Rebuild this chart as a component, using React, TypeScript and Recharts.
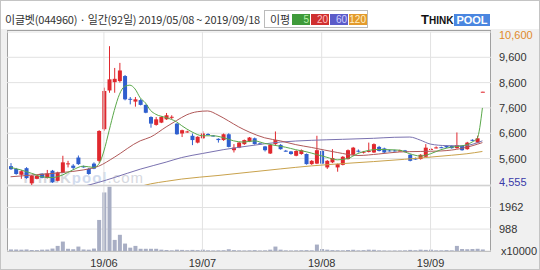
import React from 'react';
import {
  Bar,
  CartesianGrid,
  ComposedChart,
  Line,
  ReferenceLine,
  XAxis,
  YAxis,
} from 'recharts';

// trading days 2019/05/08 ~ 2019/09/18 (92일)
const may = [8, 9, 10, 13, 14, 15, 16, 17, 20, 21, 22, 23, 24, 27, 28, 29, 30, 31];
const jun = [3, 4, 5, 7, 10, 11, 12, 13, 14, 17, 18, 19, 20, 21, 24, 25, 26, 27, 28];
const jul = [1, 2, 3, 4, 5, 8, 9, 10, 11, 12, 15, 16, 17, 18, 19, 22, 23, 24, 25, 26, 29, 30, 31];
const aug = [1, 2, 5, 6, 7, 8, 9, 12, 13, 14, 16, 19, 20, 21, 22, 23, 26, 27, 28, 29, 30];
const sep = [2, 3, 4, 5, 6, 9, 10, 11, 16, 17, 18];

const monthTicks = ['19/06/03', '19/07/01', '19/08/01', '19/09/02'];
const priceTicks = [4555, 5600, 6600, 7600, 8600, 9600, 10600];
const volumeTicks = [0, 988, 1962];

const opens = [
  5300, 5190, 4960, 5220, 4620, 4800, 5000, 4830, 5120, 4720,
  5050, 5390, 5320, 5640, 5290, 5190, 5400, 5510, 6760, 8290,
  8620, 8660, 8860, 7960, 7850, 7910, 7720, 7240, 6930, 7020,
  7150, 7240, 6980, 6590, 6650, 6500, 6230, 6400, 6570, 6510,
  6380, 6330, 6560, 5930, 6030, 6170, 6270, 6400, 6200, 6080,
  5800, 6170, 6140, 5910, 5880, 5710, 5780, 5780, 5380, 5400,
  5900, 5250, 5450, 5250, 5350, 5580, 5750, 5910, 5840, 5860,
  5840, 6060, 6000, 5920, 5920, 5900, 5920, 5750, 5600, 5580,
  5670, 5960, 6020, 6050, 6100, 6100, 6010, 6100, 5970, 6340,
  6230, 8230,
];
const highs = [
  5420, 5230, 5150, 5260, 4950, 4960, 5020, 5150, 5150, 5080,
  5710, 5510, 5380, 5720, 5320, 5230, 5450, 6720, 8400, 10040,
  9180, 9380, 8900, 8030, 8030, 7950, 7740, 7270, 7240, 7270,
  7400, 7310, 7000, 6740, 6700, 6590, 6480, 6680, 6600, 6530,
  6400, 6590, 6600, 6170, 6260, 6350, 6450, 6430, 6230, 6100,
  6170, 6670, 6170, 5940, 5900, 5930, 5960, 5800, 5540, 6500,
  5930, 5540, 5970, 5400, 5700, 5960, 6060, 5960, 5900, 6230,
  6200, 6100, 6030, 5950, 5950, 5950, 5940, 5770, 5640, 5770,
  6170, 6010, 6080, 6070, 6120, 6120, 6630, 6130, 6260, 6360,
  6500, 8240,
];
const lows = [
  5150, 4960, 4800, 4800, 4555, 4780, 4820, 4810, 4640, 4700,
  5030, 5250, 5160, 5350, 5240, 4960, 5180, 5440, 6700, 8200,
  8200, 8600, 7900, 7740, 7650, 7700, 7390, 6820, 6900, 7000,
  7130, 7160, 6540, 6450, 6620, 6130, 6200, 6380, 6540, 6470,
  6230, 6300, 6040, 5840, 6010, 6140, 6250, 6150, 6170, 5880,
  5780, 6140, 5950, 5870, 5750, 5690, 5750, 5360, 5350, 5380,
  5380, 5190, 5420, 5080, 5330, 5560, 5720, 5840, 5800, 5840,
  5820, 5880, 5820, 5880, 5880, 5880, 5840, 5490, 5550, 5560,
  5650, 5940, 6000, 6010, 6020, 5990, 5990, 5910, 5950, 6290,
  6210, 8230,
];
const closes = [
  5180, 4990, 5100, 4830, 4920, 4920, 4840, 5010, 4660, 5050,
  5450, 5410, 5230, 5380, 5270, 4990, 5200, 6690, 8270, 8730,
  8750, 9080, 7940, 7940, 7940, 7720, 7410, 6980, 7150, 7240,
  7310, 7250, 6560, 6720, 6670, 6330, 6460, 6590, 6560, 6500,
  6330, 6560, 6060, 6030, 6230, 6330, 6430, 6170, 6190, 5930,
  6140, 6330, 5970, 5900, 5780, 5900, 5930, 5380, 5510, 5930,
  5400, 5510, 5620, 5380, 5670, 5930, 6030, 5880, 5870, 5900,
  6170, 5900, 5840, 5900, 5900, 5920, 5860, 5510, 5580, 5750,
  6030, 5980, 6040, 6030, 6040, 6010, 6130, 5930, 6230, 6320,
  6400, 8240,
];
// 거래량 (x10000)
const volumes = [
  70, 65, 60, 70, 45, 40, 60, 65, 110, 230,
  425, 100, 80, 200, 70, 60, 110, 1400, 2640, 2895,
  500, 730, 335, 150, 230, 100, 100, 100, 100, 60,
  45, 30, 60, 50, 35, 50, 40, 60, 30, 25,
  30, 35, 80, 40, 30, 25, 30, 40, 25, 30,
  60, 200, 60, 30, 25, 30, 35, 40, 30, 290,
  90, 60, 40, 35, 30, 45, 55, 30, 40, 60,
  55, 30, 25, 20, 25, 25, 30, 50, 35, 60,
  50, 60, 30, 30, 40, 30, 230, 90, 80, 90,
  100, 70,
];

// moving averages: [day index, price]
const ma5Pts: [number, number][] = [
  [0, 5250], [2, 5150], [4, 5020], [6, 4880], [8, 4850], [10, 4950], [12, 5150], [14, 5300],
  [16, 5250], [17, 5380], [18, 5900], [19, 6700], [20, 7500], [21, 8140], [22, 8450], [23, 8500],
  [24, 8350], [25, 8000], [26, 7800], [27, 7500], [28, 7350], [30, 7220], [32, 7050], [33, 6900],
  [35, 6650], [37, 6500], [39, 6500], [41, 6430], [43, 6300], [45, 6250], [47, 6300], [49, 6200],
  [51, 6120], [53, 6050], [55, 5950], [57, 5870], [59, 5760], [61, 5650], [63, 5550], [65, 5600],
  [67, 5800], [69, 5920], [71, 5960], [73, 5950], [75, 5930], [77, 5790], [79, 5700], [81, 5790],
  [83, 5950], [85, 6050], [87, 6100], [88, 6150], [89, 6250], [90, 6400], [91, 7600],
];
const ma20Pts: [number, number][] = [
  [0, 4880], [5, 4960], [10, 5050], [14, 5150], [17, 5300], [20, 5650], [25, 6300], [27, 6450],
  [30, 6850], [32, 7100], [34, 7330], [36, 7450], [38, 7480], [40, 7320], [42, 7090], [44, 6850],
  [46, 6650], [49, 6420], [52, 6300], [55, 6150], [58, 6040], [63, 5840], [67, 5720], [71, 5780],
  [75, 5860], [79, 5880], [83, 5900], [87, 6000], [91, 6230],
];
const ma60Pts: [number, number][] = [
  [14, 4500], [17, 4660], [20, 4850], [25, 5180], [30, 5460], [33, 5640], [37, 5800], [41, 5950],
  [46, 6100], [52, 6250], [58, 6320], [64, 6360], [70, 6400], [74, 6440], [77, 6450], [79, 6330],
  [81, 6170], [84, 6110], [87, 6100], [89, 6160], [91, 6300],
];
const ma120Pts: [number, number][] = [
  [25, 4500], [27, 4600], [30, 4700], [33, 4790], [40, 4930], [46, 5060], [52, 5190], [58, 5310],
  [64, 5400], [70, 5480], [76, 5570], [80, 5640], [85, 5730], [88, 5790], [91, 5880],
];

const RED = '#e0282e';
const BLUE = '#2f5fce';
const GRID = '#e2e2e2';

const pad = (n: number) => (n < 10 ? `0${n}` : `${n}`);
const dates = [
  ...may.map((d) => `19/05/${pad(d)}`),
  ...jun.map((d) => `19/06/${pad(d)}`),
  ...jul.map((d) => `19/07/${pad(d)}`),
  ...aug.map((d) => `19/08/${pad(d)}`),
  ...sep.map((d) => `19/09/${pad(d)}`),
];

const pick = (pts: [number, number][], i: number) => {
  const hit = pts.find((p) => p[0] === i);
  return hit ? hit[1] : null;
};

const rows = dates.map((date, i) => ({
  date,
  open: opens[i],
  high: highs[i],
  low: lows[i],
  close: closes[i],
  range: [lows[i], highs[i]],
  vol: volumes[i],
  ma5: pick(ma5Pts, i),
  ma20: pick(ma20Pts, i),
  ma60: pick(ma60Pts, i),
  ma120: pick(ma120Pts, i),
}));

const Candle = (props: any) => {
  const { x, y, width, height, payload } = props;
  if (x == null || y == null) return null;
  const { open, close, high, low } = payload;
  const color = close >= open ? RED : BLUE;
  const span = high - low;
  const toY = (v: number) => (span === 0 ? y : y + ((high - v) / span) * height);
  const cx = x + width / 2;
  const top = toY(Math.max(open, close));
  const bot = toY(Math.min(open, close));
  return (
    <g>
      <line x1={cx} x2={cx} y1={y} y2={y + height} stroke={color} strokeWidth={1} />
      <rect x={x} y={top} width={width} height={Math.max(1, bot - top)} fill={color} />
    </g>
  );
};

const fmt = (v: number) => v.toLocaleString('en-US');

const PriceTick = (props: any) => {
  const { x, y, payload } = props;
  const v = payload.value;
  let color = '#333';
  if (v === 10600) color = '#e08a2a';
  if (v === 4555) color = '#3a3aa8';
  const dy = v === 10600 ? 7 : v === 4555 ? 1 : 4;
  return (
    <text x={x} y={y + dy} fill={color} fontSize={11} textAnchor="start">
      {fmt(v)}
    </text>
  );
};

const VolTick = (props: any) => {
  const { x, y, payload } = props;
  const v = payload.value;
  return (
    <text x={v === 0 ? x + 2 : x} y={y + 4} fill="#333" fontSize={11} textAnchor="start">
      {v === 0 ? 'x10000' : v}
    </text>
  );
};

const legend = [
  { label: '5', bg: '#3f9a3a', fg: '#b6f0a8' },
  { label: '20', bg: '#cf2f2f', fg: '#ffc0c0' },
  { label: '60', bg: '#5c5cc8', fg: '#d0d0ff' },
  { label: '120', bg: '#e39a2c', fg: '#fff0c8' },
];

export default function App() {
  return (
    <div
      style={{
        position: 'absolute',
        left: 0,
        top: 0,
        width: 540,
        height: 270,
        boxSizing: 'border-box',
        border: '1px solid #c4c4c4',
        background: '#f0f0f0',
        fontFamily: "'Liberation Sans', 'Noto Sans CJK KR', sans-serif",
        overflow: 'hidden',
      }}
    >
      <div style={{ position: 'absolute', left: 0, top: 0, width: 540, height: 28, background: '#fff' }} />
      <div
        style={{
          position: 'absolute',
          left: 4,
          top: 11,
          fontSize: 11,
          lineHeight: '14px',
          color: '#333',
          letterSpacing: -0.2,
          whiteSpace: 'nowrap',
          fontFamily: "'Noto Sans CJK KR', sans-serif",
        }}
      >
        이글벳(044960) · 일간(92일) 2019/05/08 ~ 2019/09/18
      </div>
      <div
        style={{
          position: 'absolute',
          left: 263,
          top: 9,
          width: 104,
          height: 18,
          boxSizing: 'border-box',
          border: '1px solid #bbb',
          background: '#fff',
        }}
      >
        <span
          style={{
            position: 'absolute',
            left: 5,
            top: 1,
            fontSize: 11,
            lineHeight: '14px',
            color: '#333',
            fontFamily: "'Noto Sans CJK KR', sans-serif",
          }}
        >
          이평
        </span>
        {legend.map((l, k) => (
          <span
            key={l.label}
            style={{
              position: 'absolute',
              left: 27 + k * 19,
              top: 3,
              width: 18,
              height: 11,
              background: l.bg,
              color: l.fg,
              fontSize: 10,
              lineHeight: '11px',
              textAlign: 'right',
              paddingRight: 1,
              boxSizing: 'border-box',
            }}
          >
            {l.label}
          </span>
        ))}
      </div>
      <div style={{ position: 'absolute', left: 420, top: 12, height: 13, display: 'flex', alignItems: 'flex-end' }}>
        <span style={{ fontWeight: 'bold', color: '#111', fontSize: 13, lineHeight: '13px' }}>T</span>
        <span style={{ fontWeight: 'bold', color: '#111', fontSize: 10, lineHeight: '11px' }}>HINK</span>
        <span
          style={{
            marginLeft: 1,
            fontWeight: 'bold',
            color: '#fff',
            background: '#4a86e0',
            fontSize: 11,
            lineHeight: '12px',
            padding: '0 2px',
          }}
        >
          POOL
        </span>
      </div>

      <div
        style={{
          position: 'absolute',
          left: 6,
          top: 29,
          width: 484,
          height: 222,
          boxSizing: 'border-box',
          background: '#fff',
          border: '1px solid #a0a0a0',
        }}
      />
      <div style={{ position: 'absolute', left: 6, top: 184, width: 484, height: 1, background: '#a0a0a0' }} />
      <div
        style={{
          position: 'absolute',
          left: 20,
          top: 168,
          fontSize: 15,
          fontWeight: 'bold',
          color: '#cdd0d8',
          opacity: 0.8,
          letterSpacing: 1,
        }}
      >
        THINK<span style={{ color: '#c8d4ea' }}>pool</span>
        <span style={{ fontWeight: 'normal' }}>.com</span>
      </div>

      <div style={{ position: 'absolute', left: 0, top: 0 }}>
        <ComposedChart width={540} height={186} data={rows} margin={{ top: 31, right: 0, left: 6, bottom: 2 }}>
          <CartesianGrid stroke={GRID} vertical={false} />
          <XAxis dataKey="date" hide padding={{ left: 1, right: 6 }} />
          <YAxis
            orientation="right"
            domain={[4555, 10600]}
            ticks={priceTicks}
            interval={0}
            allowDataOverflow
            width={50}
            axisLine={false}
            tickLine={false}
            tick={<PriceTick />}
          />
          {monthTicks.map((m) => (
            <ReferenceLine key={m} x={m} stroke={GRID} />
          ))}
          <Line type="monotone" dataKey="ma120" stroke="#c9a24c" strokeWidth={1} dot={false} connectNulls isAnimationActive={false} />
          <Line type="monotone" dataKey="ma60" stroke="#7a72b0" strokeWidth={1} dot={false} connectNulls isAnimationActive={false} />
          <Line type="monotone" dataKey="ma20" stroke="#b05858" strokeWidth={1} dot={false} connectNulls isAnimationActive={false} />
          <Line type="monotone" dataKey="ma5" stroke="#5aa84a" strokeWidth={1} dot={false} connectNulls isAnimationActive={false} />
          <Bar dataKey="range" barSize={4} shape={<Candle />} isAnimationActive={false} />
        </ComposedChart>
      </div>

      <div style={{ position: 'absolute', left: 0, top: 180 }}>
        <ComposedChart width={540} height={90} data={rows} margin={{ top: 5, right: 0, left: 6, bottom: 0 }}>
          <CartesianGrid stroke={GRID} vertical={false} />
          <XAxis
            dataKey="date"
            height={20}
            padding={{ left: 1, right: 6 }}
            ticks={monthTicks}
            interval={0}
            tickFormatter={(v: string) => v.slice(0, 5)}
            axisLine={false}
            tickLine={false}
            tick={{ fill: '#333', fontSize: 11 }}
          />
          <YAxis
            orientation="right"
            domain={[0, 2930]}
            ticks={volumeTicks}
            interval={0}
            width={50}
            axisLine={false}
            tickLine={false}
            tick={<VolTick />}
          />
          {monthTicks.map((m) => (
            <ReferenceLine key={m} x={m} stroke={GRID} />
          ))}
          <Bar dataKey="vol" barSize={4} fill="#a8aec4" isAnimationActive={false} />
        </ComposedChart>
      </div>
    </div>
  );
}
